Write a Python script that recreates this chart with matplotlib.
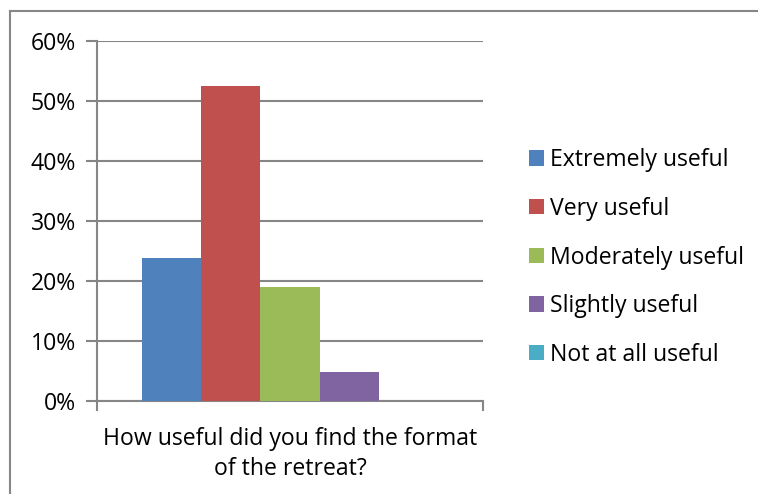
import matplotlib
matplotlib.use("Agg")
import matplotlib.pyplot as plt
from matplotlib.lines import Line2D
from matplotlib.patches import Patch

categories = ["Extremely useful", "Very useful", "Moderately useful", "Slightly useful", "Not at all useful"]
values = [23.8, 52.4, 19.0, 4.8, 0.0]
colors = ["#4F81BD", "#C0504D", "#9BBB59", "#8064A2", "#4BACC6"]
yticks = [0, 10, 20, 30, 40, 50, 60]
ytick_labels = ["0%", "10%", "20%", "30%", "40%", "50%", "60%"]
xlabel = "How useful did you find the format\nof the retreat?"

plt.rcParams['font.family'] = ['Open Sans', 'DejaVu Sans']
FS = 16.6
W, H = 758, 494
fig = plt.figure(figsize=(W / 100, H / 100), dpi=100)

def fx(px):
    return px / W

def fy(py):
    return 1 - py / H

# plot area: x 97..483, y 40.7..401
ax = fig.add_axes([fx(97), fy(401), fx(483) - fx(97), fy(40.7) - fy(401)])

grey = "#868686"
bw = 1.0
gap = 1.5
n = len(values)
total = n * bw + gap
start = -total / 2 + gap / 2
for i, (v, c, lab) in enumerate(zip(values, colors, categories)):
    ax.bar(start + i * bw + bw / 2, v, width=bw, color=c, label=lab, zorder=3)

ax.set_xlim(-total / 2, total / 2)
ax.set_ylim(0, 60)
ax.set_yticks(yticks)
ax.set_yticklabels(ytick_labels, fontsize=FS, color="#000000")
ax.yaxis.grid(True, color=grey, linewidth=1.5, zorder=0)
ax.set_axisbelow(True)
for s in ["top", "right"]:
    ax.spines[s].set_visible(False)
for s in ["left", "bottom"]:
    ax.spines[s].set_color(grey)
    ax.spines[s].set_linewidth(1.5)
ax.tick_params(axis="y", length=8, width=1.5, color=grey, pad=7)
ax.set_xticks([-total / 2, total / 2])
ax.set_xticklabels(["", ""])
ax.tick_params(axis="x", length=7, width=1.5, color=grey)
ax.text(0.5, -0.072, xlabel, transform=ax.transAxes, fontsize=FS,
        ha="center", va="top", linespacing=1.32)

handles = [Patch(facecolor=c, edgecolor="none") for c in colors]
leg = fig.legend(handles, categories, loc="center left",
                 bbox_to_anchor=(fx(520), fy(257.5)), frameon=False,
                 fontsize=FS, handlelength=0.65, handleheight=0.65,
                 handletextpad=0.25, labelspacing=1.07, borderaxespad=0)

# outer chart border (top and left visible)
fig.add_artist(Line2D([fx(10), 1.0], [fy(11.5), fy(11.5)], color=grey, linewidth=1.5, transform=fig.transFigure))
fig.add_artist(Line2D([fx(10), fx(10)], [fy(11.5), 0.0], color=grey, linewidth=1.5, transform=fig.transFigure))

fig.savefig("out.png", dpi=100)
